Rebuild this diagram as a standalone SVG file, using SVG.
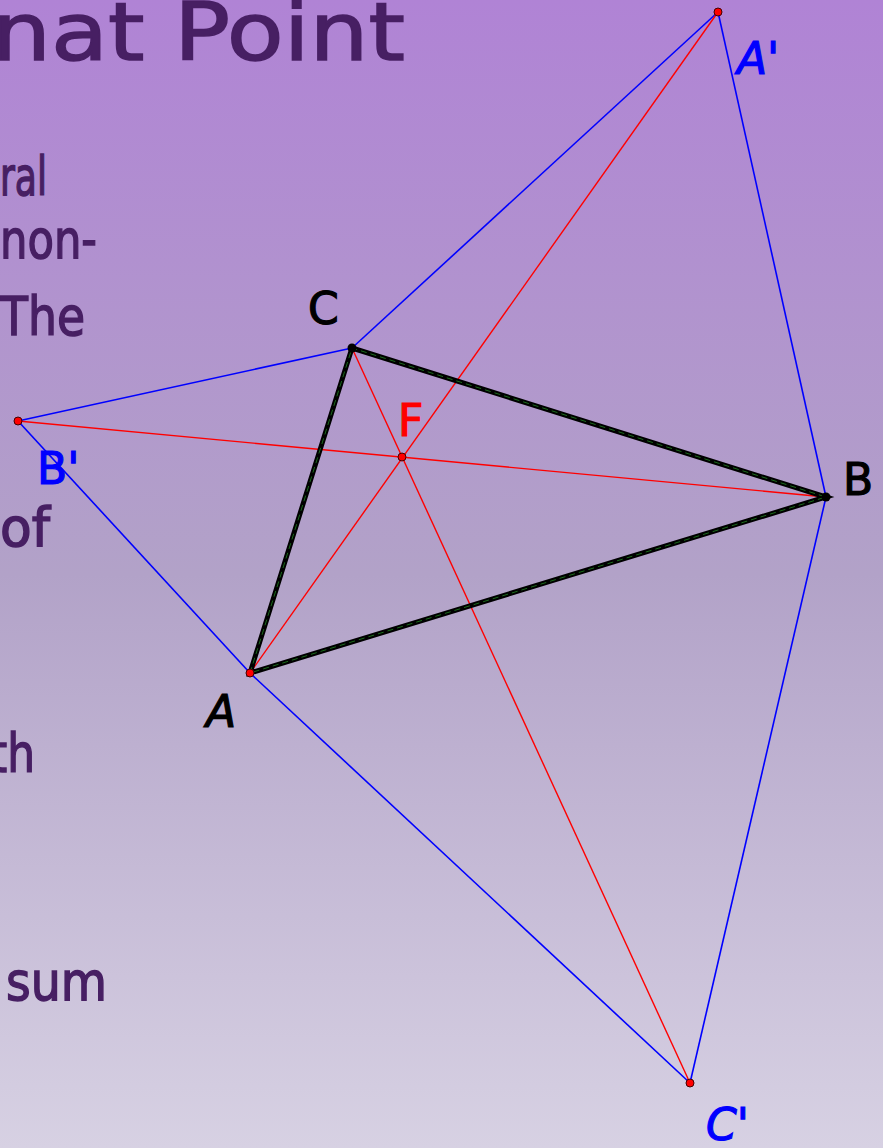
<svg xmlns="http://www.w3.org/2000/svg" width="883" height="1148" viewBox="0 0 883 1148">
<defs>
<linearGradient id="bg" x1="0" y1="0" x2="0" y2="1">
<stop offset="0" stop-color="#b083d5"/>
<stop offset="0.5" stop-color="#b2a2c8"/>
<stop offset="1" stop-color="#d7d1e3"/>
</linearGradient>
<style>
.t{font-family:"Comic Sans MS","DejaVu Sans",sans-serif;fill:#471f63;stroke:#471f63;stroke-width:1.5}
.lb{font-family:"Comic Sans MS","DejaVu Sans",sans-serif;font-size:44px;stroke-width:1.2}
.blue{stroke:#0000ff;stroke-width:1.6;fill:none}
.red{stroke:#ff0000;stroke-width:1.4;fill:none}
.side{stroke:#000;stroke-width:5;fill:none;stroke-linecap:round}
.sdash{stroke:#1a6b1a;stroke-width:1;stroke-dasharray:6 4;fill:none}
.rp{fill:#ff0000;stroke:#400;stroke-width:1}
.bp{fill:#000}
</style>
</defs>
<rect width="883" height="1148" fill="url(#bg)"/>
<g id="text">
<text class="t" x="-8" y="60" font-size="80" textLength="413" lengthAdjust="spacingAndGlyphs">nat Point</text>
<text class="t" x="0" y="195" font-size="54" textLength="47" lengthAdjust="spacingAndGlyphs">ral</text>
<text class="t" x="0" y="258" font-size="54" textLength="97" lengthAdjust="spacingAndGlyphs">non-</text>
<text class="t" x="0" y="335" font-size="54" textLength="85" lengthAdjust="spacingAndGlyphs">The</text>
<text class="t" x="0" y="546" font-size="54" textLength="50" lengthAdjust="spacingAndGlyphs">of</text>
<text class="t" x="-10" y="772" font-size="54" textLength="45" lengthAdjust="spacingAndGlyphs">th</text>
<text class="t" x="6" y="1000" font-size="54" textLength="101" lengthAdjust="spacingAndGlyphs">sum</text>
</g>
<g id="connectors">
<line class="blue" x1="352" y1="348" x2="718" y2="12"/>
<line class="blue" x1="718" y1="12" x2="826" y2="497"/>
<line class="blue" x1="352" y1="348" x2="18" y2="421"/>
<line class="blue" x1="18" y1="421" x2="250" y2="673"/>
<line class="blue" x1="250" y1="673" x2="690" y2="1083"/>
<line class="blue" x1="690" y1="1083" x2="826" y2="497"/>
<line class="red" x1="250" y1="673" x2="718" y2="12"/>
<line class="red" x1="826" y1="497" x2="18" y2="421"/>
<line class="red" x1="352" y1="348" x2="690" y2="1083"/>
<path class="side" d="M250,673 L352,348 L826,497 Z"/>
<path class="sdash" d="M250,673 L352,348 L826,497 Z"/>
</g>
<g id="node-A"><circle class="rp" cx="250" cy="673" r="4"/><text class="lb" x="206" y="727" font-style="italic" stroke="#000">A</text></g>
<g id="node-B"><circle class="bp" cx="826" cy="497" r="4.5"/><text class="lb" x="843" y="495" stroke="#000">B</text></g>
<g id="node-C"><circle class="bp" cx="352" cy="348" r="4.5"/><text class="lb" x="308" y="324" stroke="#000">C</text></g>
<g id="node-F"><circle class="rp" cx="402" cy="457" r="4"/><text class="lb" x="398" y="436" fill="#ff0000" stroke="#ff0000">F</text></g>
<g id="node-A1"><circle class="rp" cx="718" cy="12" r="4"/><text class="lb" x="737" y="74" fill="#0000ff" stroke="#0000ff" font-style="italic">A'</text></g>
<g id="node-B1"><circle class="rp" cx="18" cy="421" r="4"/><text class="lb" x="37" y="484" fill="#0000ff" stroke="#0000ff">B'</text></g>
<g id="node-C1"><circle class="rp" cx="690" cy="1083" r="4"/><text class="lb" x="706" y="1140" fill="#0000ff" stroke="#0000ff" font-style="italic">C'</text></g>
</svg>
